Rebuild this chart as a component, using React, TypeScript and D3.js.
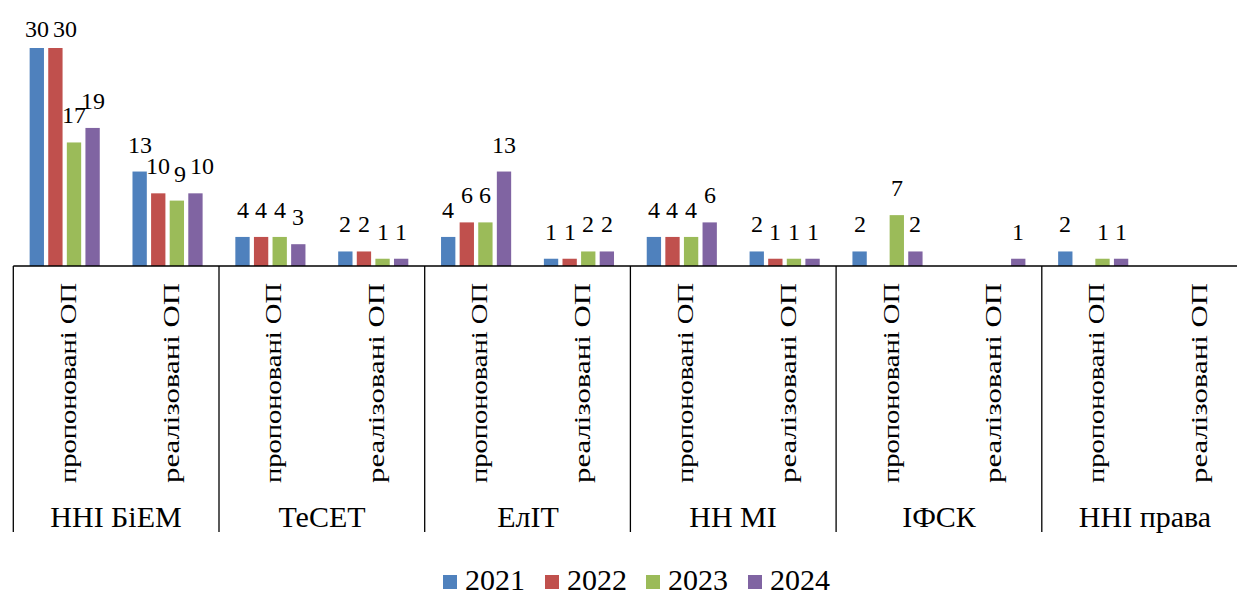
import React, { useEffect, useRef } from "react";
import * as d3 from "d3";

const groups = ["ННІ БіЕМ", "ТеСЕТ", "ЕлІТ", "НН МІ", "ІФСК", "ННІ права"];
const subCats = ["пропоновані ОП", "реалізовані ОП"];
const seriesNames = ["2021", "2022", "2023", "2024"];
const colors = ["#4F81BD", "#C0504D", "#9BBB59", "#8064A2"];

// values per category (group × subcategory), null = blank
const s2021: (number | null)[] = [30, 13, 4, 2, 4, 1, 4, 2, 2, null, 2, null];
const s2022: (number | null)[] = [30, 10, 4, 2, 6, 1, 4, 1, null, null, null, null];
const s2023: (number | null)[] = [17, 9, 4, 1, 6, 2, 4, 1, 7, null, 1, null];
const s2024: (number | null)[] = [19, 10, 3, 1, 13, 2, 6, 1, 2, 1, 1, null];
const seriesValues = [s2021, s2022, s2023, s2024];

const W = 1237;
const H = 593;
const FONT = "Liberation Serif";
const LABEL_FS = 24;
const BIG_FS = 30;

export default function App() {
  const svgRef = useRef<SVGSVGElement | null>(null);
  const cats = groups.flatMap((g) => subCats.map((s) => `${g}|${s}`));
  const plotLeft = 13.3;
  const plotRight = 1247.5;
  const baseY = 266;
  const x0 = d3.scaleBand<string>().domain(cats).range([plotLeft, plotRight]);
  const cw = x0.bandwidth();
  const x1 = d3
    .scaleBand<string>()
    .domain(seriesNames)
    .range([14.2, 88.6])
    .paddingInner(0.23)
    .paddingOuter(0.115);
  const y = d3.scaleLinear().domain([0, 30]).range([baseY, 48]);
  const gw = cw * 2;
  const r = Math.round;

  // data label placement with simple collision avoidance (shift right)
  type Lab = { key: string; x: number; y: number; text: string };
  const labels: Lab[] = [];
  cats.forEach((c, ci) => {
    const placed: { l: number; r: number; t: number; b: number }[] = [];
    seriesValues.forEach((vals, si) => {
      const v = vals[ci];
      if (v == null) return;
      const text = String(v);
      const w = text.length * LABEL_FS * 0.5;
      const h = LABEL_FS * 0.68;
      let cx = (x0(c) ?? 0) + (x1(seriesNames[si]) ?? 0) + x1.bandwidth() / 2;
      const by = Math.max(y(v) - 19, 37);
      for (const p of placed) {
        const yOv = Math.min(p.b, by) - Math.max(p.t, by - h);
        const xOv = p.r - (cx - w / 2);
        if (yOv > 4 && xOv > -2) cx += xOv + 4;
      }
      placed.push({ l: cx - w / 2, r: cx + w / 2, t: by - h, b: by });
      labels.push({ key: `l${si}-${ci}`, x: cx, y: by, text });
    });
  });

  useEffect(() => {
    if (!svgRef.current) return;
    d3.select(svgRef.current)
      .selectAll<SVGTextElement, unknown>("text.rot")
      .each(function () {
        this.removeAttribute("textLength");
        this.removeAttribute("lengthAdjust");
        const L = this.getComputedTextLength();
        d3.select(this)
          .attr("textLength", Math.min(L * 1.5, 200))
          .attr("lengthAdjust", "spacingAndGlyphs");
      });
  }, []);

  return (
    <svg ref={svgRef} width={W} height={H} style={{ position: "absolute", left: 0, top: 0 }}>
      {/* all texts first */}
      {labels.map((l) => (
        <text
          key={l.key}
          x={r(l.x)}
          y={r(l.y)}
          textAnchor="middle"
          style={{ fontFamily: FONT, fontSize: LABEL_FS }}
        >
          {l.text}
        </text>
      ))}
      {cats.map((c, ci) => (
        <text
          key={`cl${ci}`}
          className="rot"
          transform={`translate(${r((x0(c) ?? 0) + cw / 2 + 11)},283) rotate(-90)`}
          textAnchor="end"
          style={{ fontFamily: FONT, fontSize: LABEL_FS }}
        >
          {c.split("|")[1]}
        </text>
      ))}
      {groups.map((g, gi) => (
        <text
          key={`gl${gi}`}
          x={r(plotLeft + gi * gw + gw / 2)}
          y={527}
          textAnchor="middle"
          style={{ fontFamily: FONT, fontSize: BIG_FS }}
        >
          {g}
        </text>
      ))}
      {seriesNames.map((s, si) => (
        <text
          key={`lt${si}`}
          x={r(443 + si * 101.7 + 22)}
          y={590}
          style={{ fontFamily: FONT, fontSize: BIG_FS }}
        >
          {s}
        </text>
      ))}
      {/* bars */}
      {seriesValues.map((vals, si) =>
        vals.map((v, ci) =>
          v == null ? null : (
            <rect
              key={`b${si}-${ci}`}
              x={(x0(cats[ci]) ?? 0) + (x1(seriesNames[si]) ?? 0)}
              y={y(v)}
              width={x1.bandwidth()}
              height={baseY - y(v)}
              fill={colors[si]}
            />
          )
        )
      )}
      {/* axis line */}
      <line x1={plotLeft} x2={W} y1={baseY} y2={baseY} stroke="#000" strokeWidth={1.3} />
      {/* group separators */}
      {groups.map((g, gi) => (
        <line
          key={`sep${gi}`}
          x1={plotLeft + gi * gw}
          x2={plotLeft + gi * gw}
          y1={baseY}
          y2={532}
          stroke="#000"
          strokeWidth={1.3}
        />
      ))}
      {/* legend swatches */}
      {seriesNames.map((s, si) => (
        <rect
          key={`ls${si}`}
          x={r(443 + si * 101.7)}
          y={575}
          width={14}
          height={14}
          fill={colors[si]}
        />
      ))}
    </svg>
  );
}
